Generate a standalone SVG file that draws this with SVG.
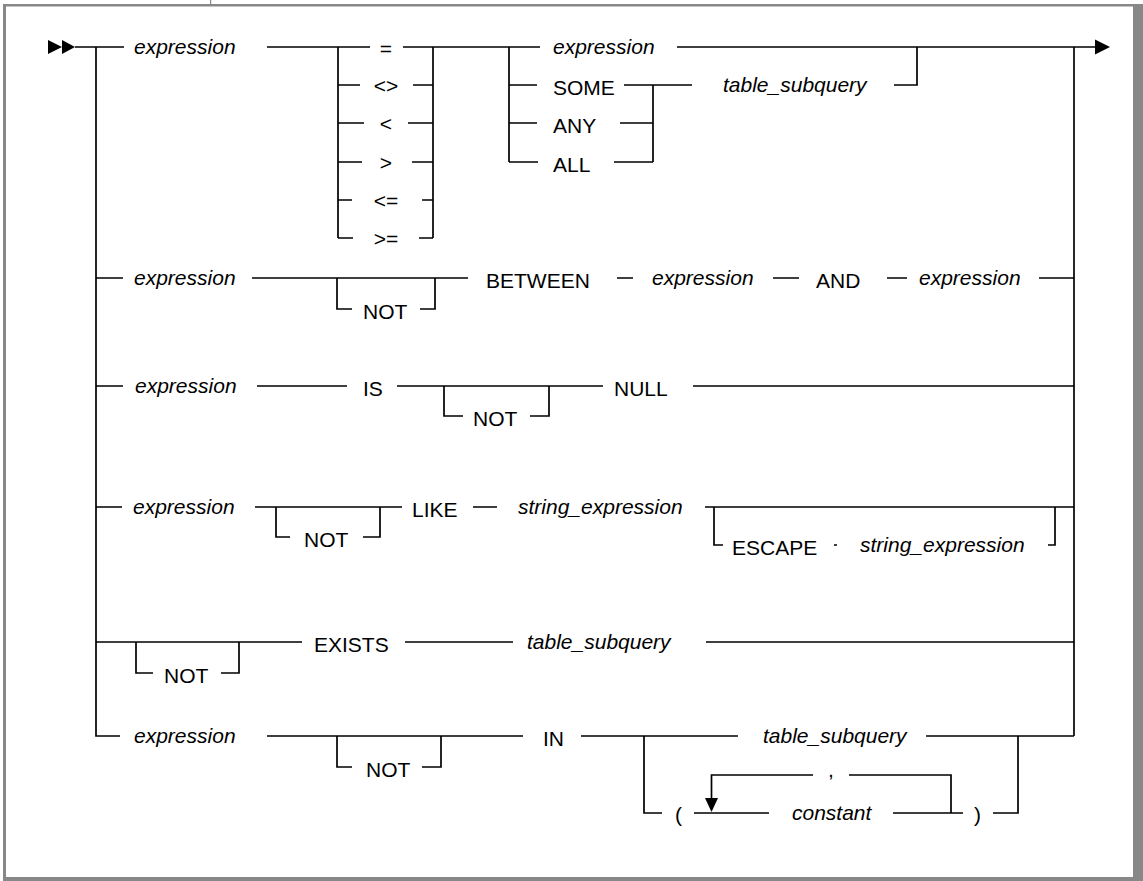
<svg xmlns="http://www.w3.org/2000/svg" width="1143" height="881" viewBox="0 0 1143 881">
<style>
.frame{fill:#888888}
.ln{fill:none;stroke:#000;stroke-width:1.7}
.ah{fill:#000}
text{font-family:"Liberation Sans",Arial,sans-serif;font-size:21px;fill:#000}
.it{font-style:italic}
.op{text-anchor:middle}
</style>
<rect width="1143" height="881" fill="#fff"/>
<g id="frame">
<rect class="frame" x="3" y="4" width="1140" height="2.5"/>
<rect class="frame" x="3" y="4" width="3" height="877"/>
<rect class="frame" x="1133" y="4" width="10" height="877"/>
<rect class="frame" x="3" y="877" width="1140" height="4"/>
<rect class="frame" x="210" y="0" width="1.2" height="5"/>
</g>
<g id="connectors">
<polygon class="ah" points="48,40 62,47 48,54"/>
<polygon class="ah" points="62,40 75,47 62,54"/>
<path class="ln" d="M75,47 H124 M267,47 H370 M403,47 H540 M677,47 H1095"/>
<polygon class="ah" points="1095,39.5 1110,47 1095,54.5"/>
<path class="ln" d="M96,47 V736 H120"/>
<path class="ln" d="M1074,47 V736"/>
<path class="ln" d="M338,47 V238 M338,85 H360 M338,123 H364 M338,162 H362 M338,200 H352 M338,238 H353"/>
<path class="ln" d="M433,47 V238 M413,85 H433 M408,123 H433 M412,162 H433 M422,200 H433 M419,238 H433"/>
<path class="ln" d="M509,47 V162 M509,85 H537 M509,123 H537 M509,162 H538"/>
<path class="ln" d="M624,85 H692 M620,123 H653 M614,162 H653 M653,85 V162"/>
<path class="ln" d="M894,85 H917 V47"/>
<path class="ln" d="M96,278 H123 M252,278 H468 M337,278 V309 H352 M420,309 H435 V278 M617,278 H633 M773,278 H799 M887,278 H907 M1039,278 H1074"/>
<path class="ln" d="M96,386 H123 M257,386 H347 M397,386 H603 M444,386 V416 H463 M530,416 H549 V386 M693,386 H1074"/>
<path class="ln" d="M96,507 H122 M255,507 H402 M276,507 V537 H290 M363,537 H380 V507 M473,507 H497 M705,507 H1074 M714,507 V545 H723 M834,545 H837 M1048,545 H1055 V507"/>
<path class="ln" d="M96,642 H302 M136,642 V673 H153 M221,673 H239 V642 M405,642 H513 M706,642 H1074"/>
<path class="ln" d="M267,736 H523 M337,736 V767 H352 M422,767 H441 V736 M581,736 H738 M926,736 H1074"/>
<path class="ln" d="M644,736 V813 H662 M694,813 H769 M893,813 H963 M993,813 H1018 V736"/>
<path class="ln" d="M711.5,799 V775 H813 M849,775 H951 V813"/>
<polygon class="ah" points="705,798 718,798 711.5,812"/>
</g>
<g id="row1">
<text class="it" x="134" y="54">expression</text>
<text class="op" x="386" y="56">=</text>
<text class="op" x="386" y="93">&lt;&gt;</text>
<text class="op" x="386" y="131">&lt;</text>
<text class="op" x="386" y="170">&gt;</text>
<text class="op" x="386" y="208">&lt;=</text>
<text class="op" x="386" y="246">&gt;=</text>
<text class="it" x="553" y="54">expression</text>
<text x="553" y="95">SOME</text>
<text x="553" y="133">ANY</text>
<text x="553" y="172">ALL</text>
<text class="it" x="723" y="92">table_subquery</text>
</g>
<g id="row2">
<text class="it" x="134" y="285">expression</text>
<text x="363" y="319">NOT</text>
<text x="486" y="288">BETWEEN</text>
<text class="it" x="652" y="285">expression</text>
<text x="816" y="288">AND</text>
<text class="it" x="919" y="285">expression</text>
</g>
<g id="row3">
<text class="it" x="135" y="393">expression</text>
<text x="363" y="396">IS</text>
<text x="473" y="426">NOT</text>
<text x="614" y="396">NULL</text>
</g>
<g id="row4">
<text class="it" x="133" y="514">expression</text>
<text x="304" y="547">NOT</text>
<text x="412" y="517">LIKE</text>
<text class="it" x="518" y="514">string_expression</text>
<text x="732" y="555">ESCAPE</text>
<text class="it" x="860" y="552">string_expression</text>
</g>
<g id="row5">
<text x="164" y="683">NOT</text>
<text x="314" y="652">EXISTS</text>
<text class="it" x="527" y="649">table_subquery</text>
</g>
<g id="row6">
<text class="it" x="134" y="743">expression</text>
<text x="366" y="777">NOT</text>
<text x="543" y="746">IN</text>
<text class="it" x="763" y="743">table_subquery</text>
<text x="675" y="822">(</text>
<text class="op" x="831" y="777">,</text>
<text class="it" x="792" y="820">constant</text>
<text x="974" y="822">)</text>
</g>
</svg>
